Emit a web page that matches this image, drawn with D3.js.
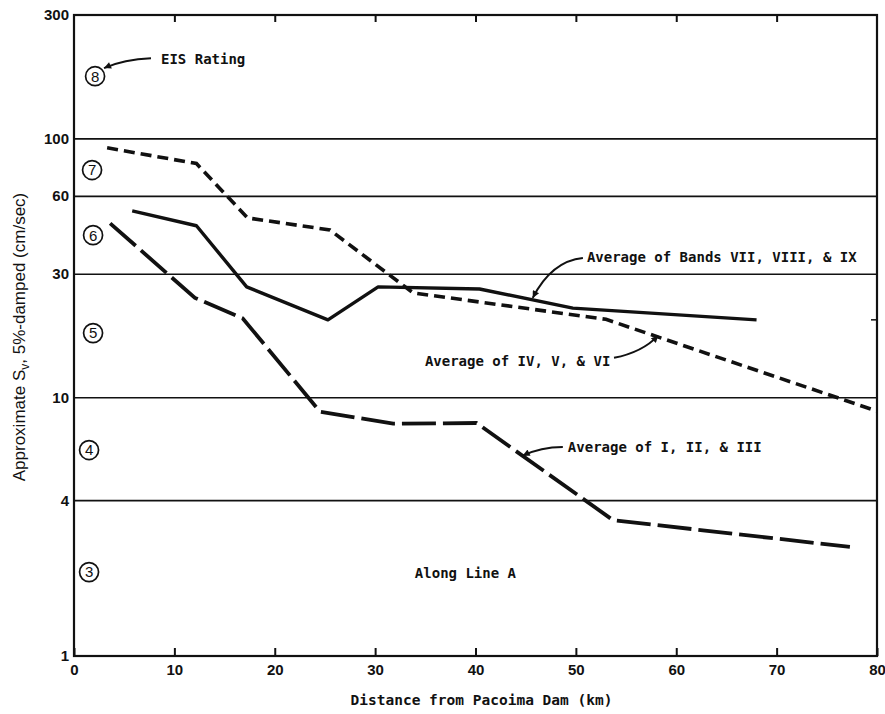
<!DOCTYPE html>
<html>
<head>
<meta charset="utf-8">
<script src="https://cdn.jsdelivr.net/npm/d3@7"></script>
<style>
  html, body { margin: 0; padding: 0; background: #fff; }
  svg { display: block; }
  .mono { font-family: "DejaVu Sans Mono", "Liberation Mono", monospace; font-size: 14px; font-weight: bold; fill: #111; }
  .tick text { font-family: "Liberation Sans", Arial, sans-serif; font-size: 15px; font-weight: bold; fill: #111; }
</style>
</head>
<body>
<svg id="chart" width="885" height="714"></svg>
<script>
// ---------- data ----------
// distance (km) along Line A
const distHigh = [5.8, 12.2, 17.2, 25.3, 30.3, 40.4, 49.7, 68];
const svHigh   = [52.5, 46, 26.7, 19.9, 26.7, 26.2, 22.1, 19.9];   // Average of Bands VII, VIII, & IX

const distMid  = [3.3, 12.2, 17.3, 25.5, 33.8, 53, 80];
const svMid    = [92, 80, 49.3, 44.3, 25.3, 20, 8.84];             // Average of IV, V, & VI

const distLow  = [3.6, 12.05, 16.8, 24.5, 31.8, 40.1, 53.7, 77.3];
const svLow    = [47, 24.2, 20.2, 8.8, 7.9, 7.95, 3.35, 2.64];     // Average of I, II, & III

const xTicks   = [0, 10, 20, 30, 40, 50, 60, 70, 80];
const yTicks   = [1, 4, 10, 30, 60, 100, 300];
const yGrid    = [4, 10, 30, 60, 100];
const eisRatings = [3, 4, 5, 6, 7, 8];

// ---------- layout ----------
const svg = d3.select("#chart");
const L = 74, R = 877, T = 15, B = 656;
const x = d3.scaleLinear().domain([0, 80]).range([L, R]);
const y = d3.scaleLog().domain([1, 300]).range([B, T]);

const line = d3.line().x(d => x(d[0])).y(d => y(d[1]));
const zip = (a, b) => a.map((v, i) => [v, b[i]]);

// gridlines
svg.append("g")
  .attr("transform", `translate(${L},0)`)
  .call(d3.axisLeft(y).tickValues(yGrid).tickSizeInner(-(R - L)).tickSizeOuter(0).tickFormat(""))
  .call(g => g.select(".domain").remove())
  .call(g => g.selectAll("line").attr("stroke", "#111").attr("stroke-width", 1.7));

// y labels
svg.append("g")
  .attr("transform", `translate(${L},0)`)
  .call(d3.axisLeft(y).tickValues(yTicks).tickSize(0).tickPadding(5).tickFormat(d3.format("d")))
  .call(g => g.select(".domain").remove());

// bottom axis (inward ticks)
svg.append("g")
  .attr("transform", `translate(0,${B})`)
  .call(d3.axisBottom(x).tickValues(xTicks).tickSizeInner(-8).tickSizeOuter(0).tickPadding(8))
  .call(g => g.select(".domain").remove())
  .call(g => g.selectAll("line").attr("stroke", "#111").attr("stroke-width", 2));

// top axis (inward ticks)
svg.append("g")
  .attr("transform", `translate(0,${T})`)
  .call(d3.axisTop(x).tickValues(xTicks.slice(1, -1)).tickSizeInner(-7).tickSizeOuter(0).tickFormat(""))
  .call(g => g.select(".domain").remove())
  .call(g => g.selectAll("line").attr("stroke", "#111").attr("stroke-width", 2));

// right side tick at 20
svg.append("g")
  .attr("transform", `translate(${R},0)`)
  .call(d3.axisRight(y).tickValues([20]).tickSizeInner(-6).tickSizeOuter(0).tickFormat(""))
  .call(g => g.select(".domain").remove())
  .call(g => g.selectAll("line").attr("stroke", "#111").attr("stroke-width", 1.5));

// frame
svg.append("rect")
  .attr("x", L).attr("y", T).attr("width", R - L).attr("height", B - T)
  .attr("fill", "none").attr("stroke", "#111").attr("stroke-width", 2.2);

// series
svg.append("path").datum(zip(distMid, svMid))
  .attr("d", line).attr("fill", "none").attr("stroke", "#111")
  .attr("stroke-width", 3.6).attr("stroke-dasharray", "11,6");

svg.append("path").datum(zip(distHigh, svHigh))
  .attr("d", line).attr("fill", "none").attr("stroke", "#111")
  .attr("stroke-width", 3.4).attr("stroke-linejoin", "round");

svg.append("path").datum(zip(distLow, svLow))
  .attr("d", line).attr("fill", "none").attr("stroke", "#111")
  .attr("stroke-width", 3.8).attr("stroke-dasharray", "34,7");

// EIS rating circles (band positions in data units)
const ratingPos = { 3: [1.5, 2.11], 4: [1.5, 6.25], 5: [1.9, 17.7], 6: [1.9, 42.3], 7: [1.8, 75.5], 8: [2.1, 174] };
const rg = svg.append("g");
eisRatings.forEach(r => {
  const [dx, dv] = ratingPos[r];
  rg.append("circle").attr("cx", x(dx)).attr("cy", y(dv)).attr("r", 9.5)
    .attr("fill", "#fff").attr("stroke", "#111").attr("stroke-width", 1.7);
  rg.append("text").attr("x", x(dx)).attr("y", y(dv)).attr("dy", "0.36em")
    .attr("text-anchor", "middle")
    .style("font-family", "Liberation Sans, Arial, sans-serif").style("font-size", "15px").style("fill", "#111")
    .text(r);
});

// arrow marker
svg.append("defs").append("marker")
  .attr("id", "arr").attr("viewBox", "0 0 10 10").attr("refX", 10).attr("refY", 5)
  .attr("markerWidth", 12).attr("markerHeight", 7).attr("markerUnits", "userSpaceOnUse")
  .attr("orient", "auto")
  .append("path").attr("d", "M0,0 L10,5 L0,10 Z").attr("fill", "#111");

// annotations in data coordinates
const notes = [
  { text: "EIS Rating", at: [8.67, 194], arrow: [[7.67, 204], [5.0, 202], [2.99, 187]] },
  { text: "Average of Bands VII, VIII, & IX", at: [51.1, 33.3], arrow: [[50.7, 34.5], [47.6, 33.6], [45.7, 24.2]] },
  { text: "Average of IV, V, & VI", at: [34.96, 13.2], arrow: [[53.8, 14.2], [56.6, 14.9], [58.2, 17.3]] },
  { text: "Average of I, II, & III", at: [49.2, 6.14], arrow: [[48.7, 6.42], [46.5, 6.42], [44.7, 5.94]] },
  { text: "Along Line A", at: [33.96, 2.0] }
];
notes.forEach(n => {
  svg.append("text").attr("class", "mono").attr("x", x(n.at[0])).attr("y", y(n.at[1])).text(n.text);
  if (n.arrow) {
    const [p0, c, p1] = n.arrow;
    const path = d3.path();
    path.moveTo(x(p0[0]), y(p0[1]));
    path.quadraticCurveTo(x(c[0]), y(c[1]), x(p1[0]), y(p1[1]));
    svg.append("path").attr("d", path.toString()).attr("fill", "none")
      .attr("stroke", "#111").attr("stroke-width", 2).attr("marker-end", "url(#arr)");
  }
});

// axis titles
svg.append("text").attr("class", "mono")
  .attr("x", (L + R) / 2 + 6).attr("y", 705).attr("text-anchor", "middle")
  .style("font-size", "14.5px")
  .text("Distance from Pacoima Dam (km)");

const yt = svg.append("text")
  .attr("transform", "translate(25,337) rotate(-90)")
  .attr("text-anchor", "middle")
  .style("font-family", "Liberation Sans, Arial, sans-serif").style("font-size", "17px").style("fill", "#111");
yt.append("tspan").text("Approximate S");
yt.append("tspan").attr("baseline-shift", "-30%").style("font-size", "12px").text("v");
yt.append("tspan").text(",  5%-damped  (cm/sec)");
</script>
</body>
</html>
